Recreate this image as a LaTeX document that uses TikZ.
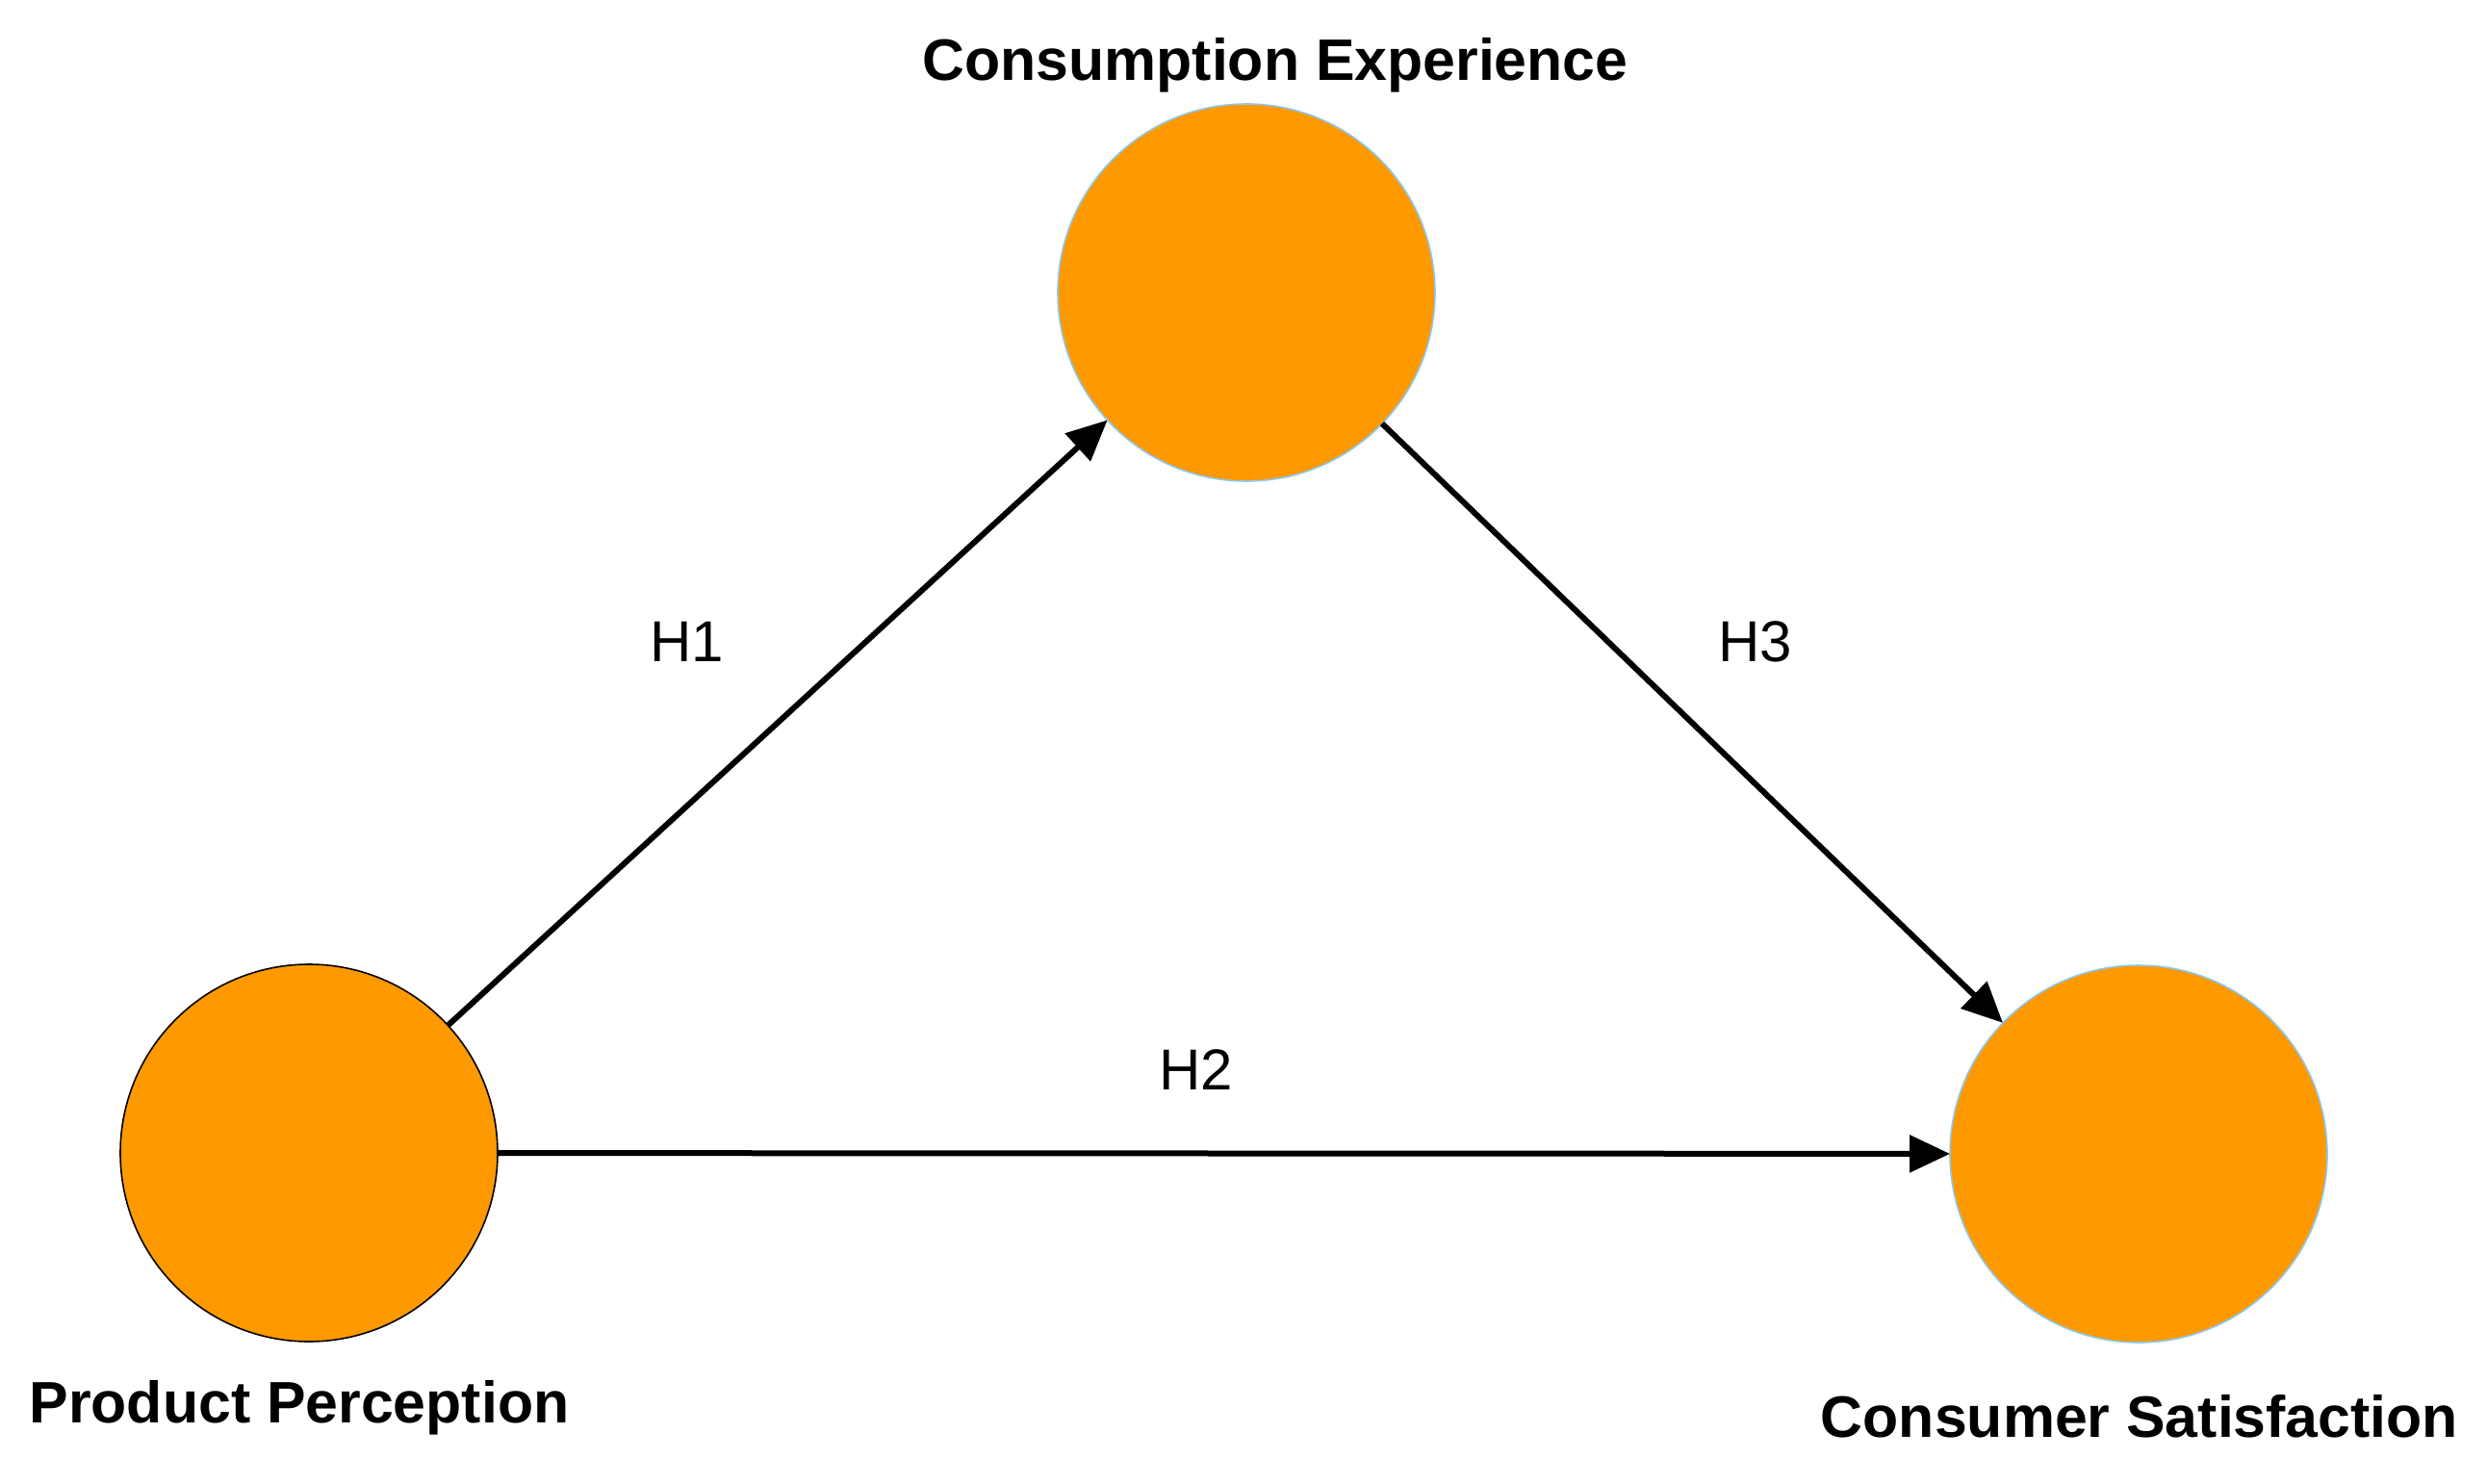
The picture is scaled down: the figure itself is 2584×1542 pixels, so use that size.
\documentclass[tikz,border=0pt]{standalone}
\usepackage{fontspec}
\setmainfont{Liberation Sans}
\usetikzlibrary{arrows.meta}
\definecolor{fillor}{RGB}{255,153,0}
\definecolor{lblue}{RGB}{140,200,240}
\begin{document}
\begin{tikzpicture}[x=0.25pt,y=-0.25pt,
  construct/.style={circle,fill=fillor,minimum size=98pt,inner sep=0pt,outer sep=0pt,line width=0.4pt},
  blueline/.style={draw=lblue},
  blackline/.style={draw=black},
  clabel/.style={font=\bfseries\fontsize{15.2}{18}\selectfont,inner sep=0pt},
  hlabel/.style={font=\fontsize{15}{18}\selectfont,inner sep=0pt},
  path/.style={line width=1.5pt,-{Triangle[length=10.5pt,width=9.5pt]}}]
\useasboundingbox (0,0) rectangle (2584,1542);
\node[construct,blackline] (pp) at (321,1198) {};
\node[construct,blueline] (ce) at (1295,304) {};
\node[construct,blueline] (cs) at (2222,1199) {};
\node[clabel] (lce) at (1325,68) {Consumption Experience};
\node[clabel] (lpp) at (311,1463) {Product Perception};
\node[clabel] (lcs) at (2223,1472) {Consumer Satisfaction};
\draw[path] (pp) -- (ce);
\draw[path] (ce) -- (cs);
\draw[path] (pp) -- (cs);
\node[hlabel] (h1) at (714,667) {H1};
\node[hlabel] (h2) at (1243,1112) {H2};
\node[hlabel] (h3) at (1824,667) {H3};
\end{tikzpicture}
\end{document}
